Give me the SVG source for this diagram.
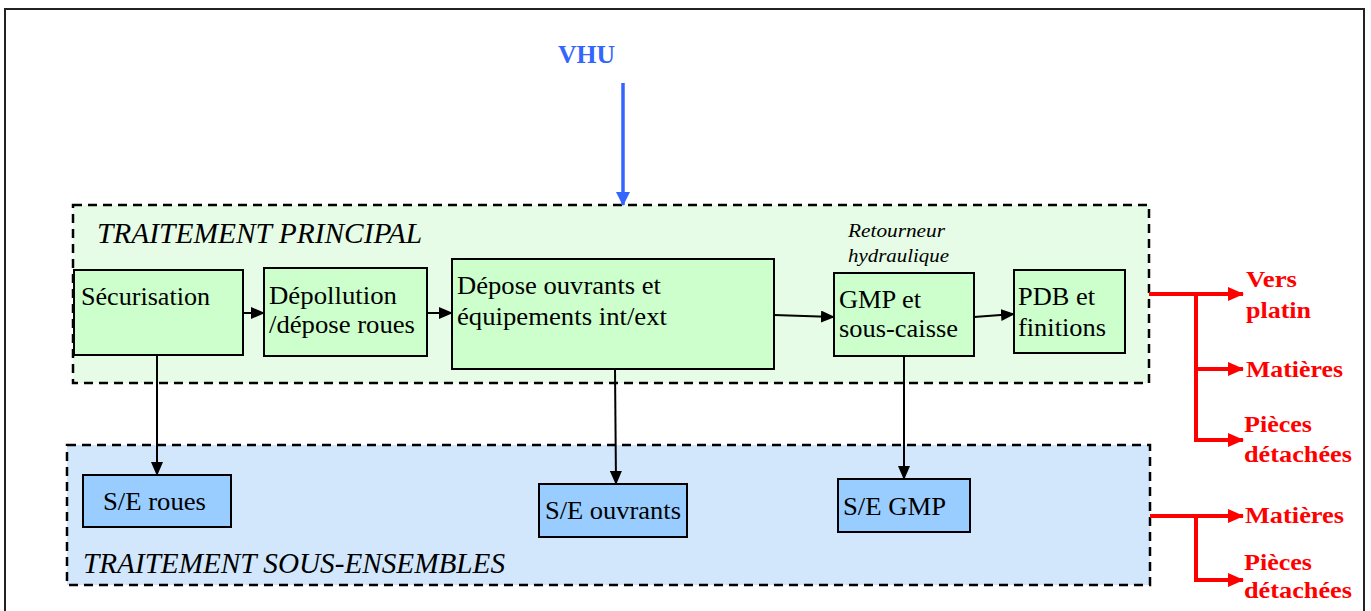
<svg xmlns="http://www.w3.org/2000/svg" width="1371" height="611" viewBox="0 0 1371 611">
<style>
text{font-family:"Liberation Serif","Times New Roman",Times,serif;fill:#000}
.t{font-size:25px}
.it{font-style:italic}
.red{fill:#ff0000;font-weight:bold;font-size:24px}
.box{fill:#ccffcc;stroke:#000;stroke-width:2}
.sbox{fill:#99ccff;stroke:#000;stroke-width:2}
.grp{stroke:#000;stroke-width:2.5;stroke-dasharray:9 6}
.c{stroke:#000;stroke-width:2;fill:none}
.r{stroke:#ff0000;stroke-width:4;fill:none}
</style>
<defs>
<marker id="ah" markerUnits="userSpaceOnUse" markerWidth="14" markerHeight="12" refX="13" refY="6" orient="auto"><path d="M0,0 L14,6 L0,12 Z" fill="#000"/></marker>
<marker id="ab" markerUnits="userSpaceOnUse" markerWidth="14" markerHeight="14" refX="13" refY="7" orient="auto"><path d="M0,0 L14,7 L0,14 Z" fill="#3366ff"/></marker>
<marker id="ar" markerUnits="userSpaceOnUse" markerWidth="16" markerHeight="14" refX="15" refY="7" orient="auto"><path d="M0,0 L16,7 L0,14 Z" fill="#ff0000"/></marker>
</defs>
<rect x="0" y="0" width="1371" height="611" fill="#fff"/>
<rect id="frame" x="5" y="9" width="1359" height="620" fill="none" stroke="#222" stroke-width="2"/>
<g id="principal">
<rect class="grp" x="73" y="205" width="1076" height="178" fill="#e6fce6"/>
<text class="it" x="97" y="243" font-size="29" textLength="325" lengthAdjust="spacingAndGlyphs">TRAITEMENT PRINCIPAL</text>
</g>
<g id="sousensembles">
<rect class="grp" x="67" y="445" width="1083" height="140" fill="#d2e7fc"/>
<text class="it" x="83" y="573" font-size="29" textLength="422" lengthAdjust="spacingAndGlyphs">TRAITEMENT SOUS-ENSEMBLES</text>
</g>
<g id="vhu"><text x="558" y="63" font-size="26" font-weight="bold" style="fill:#3366ff" textLength="57" lengthAdjust="spacingAndGlyphs">VHU</text></g>
<g id="securisation"><rect class="box" x="74" y="270" width="169" height="85"/>
<text class="t" x="81" y="305" textLength="129" lengthAdjust="spacingAndGlyphs">Sécurisation</text></g>
<g id="depollution"><rect class="box" x="264" y="268" width="163" height="88"/>
<text class="t" x="269" y="304" textLength="128" lengthAdjust="spacingAndGlyphs">Dépollution</text>
<text class="t" x="269" y="333" textLength="146" lengthAdjust="spacingAndGlyphs">/dépose roues</text></g>
<g id="depose"><rect class="box" x="452" y="259" width="322" height="110"/>
<text class="t" x="457" y="294" textLength="204" lengthAdjust="spacingAndGlyphs">Dépose ouvrants et</text>
<text class="t" x="457" y="325" textLength="210" lengthAdjust="spacingAndGlyphs">équipements int/ext</text></g>
<g id="retourneur">
<text class="it" x="848" y="237" font-size="18" textLength="97" lengthAdjust="spacingAndGlyphs">Retourneur</text>
<text class="it" x="848" y="262" font-size="18" textLength="101" lengthAdjust="spacingAndGlyphs">hydraulique</text></g>
<g id="gmp"><rect class="box" x="834" y="273" width="140" height="83"/>
<text class="t" x="839" y="308" textLength="82" lengthAdjust="spacingAndGlyphs">GMP et</text>
<text class="t" x="839" y="337" textLength="119" lengthAdjust="spacingAndGlyphs">sous-caisse</text></g>
<g id="pdb"><rect class="box" x="1014" y="270" width="111" height="83"/>
<text class="t" x="1018" y="305" textLength="77" lengthAdjust="spacingAndGlyphs">PDB et</text>
<text class="t" x="1018" y="336" textLength="88" lengthAdjust="spacingAndGlyphs">finitions</text></g>
<g id="se-roues"><rect class="sbox" x="83" y="475" width="148" height="52"/>
<text class="t" x="103" y="510" textLength="103" lengthAdjust="spacingAndGlyphs">S/E roues</text></g>
<g id="se-ouvrants"><rect class="sbox" x="539" y="484" width="148" height="53"/>
<text class="t" x="545" y="519" textLength="136" lengthAdjust="spacingAndGlyphs">S/E ouvrants</text></g>
<g id="se-gmp"><rect class="sbox" x="838" y="479" width="132" height="53"/>
<text class="t" x="843" y="515" textLength="103" lengthAdjust="spacingAndGlyphs">S/E GMP</text></g>
<g id="outputs">
<text class="red" x="1246" y="287" textLength="51" lengthAdjust="spacingAndGlyphs">Vers</text>
<text class="red" x="1246" y="318" textLength="65" lengthAdjust="spacingAndGlyphs">platin</text>
<text class="red" x="1246" y="377" textLength="97" lengthAdjust="spacingAndGlyphs">Matières</text>
<text class="red" x="1244" y="432" textLength="68" lengthAdjust="spacingAndGlyphs">Pièces</text>
<text class="red" x="1244" y="462" textLength="108" lengthAdjust="spacingAndGlyphs">détachées</text>
<text class="red" x="1245" y="523" textLength="99" lengthAdjust="spacingAndGlyphs">Matières</text>
<text class="red" x="1244" y="570" textLength="68" lengthAdjust="spacingAndGlyphs">Pièces</text>
<text class="red" x="1244" y="598" textLength="108" lengthAdjust="spacingAndGlyphs">détachées</text>
</g>
<g id="connectors">
<line x1="623" y1="83" x2="623" y2="205" stroke="#3366ff" stroke-width="3.5" marker-end="url(#ab)"/>
<line class="c" x1="243" y1="313" x2="264" y2="313" marker-end="url(#ah)"/>
<line class="c" x1="427" y1="313" x2="452" y2="313" marker-end="url(#ah)"/>
<line class="c" x1="774" y1="315" x2="834" y2="317" marker-end="url(#ah)"/>
<line class="c" x1="974" y1="317" x2="1014" y2="314" marker-end="url(#ah)"/>
<line class="c" x1="157" y1="355" x2="157" y2="475" marker-end="url(#ah)"/>
<line class="c" x1="615" y1="369" x2="616" y2="484" marker-end="url(#ah)"/>
<line class="c" x1="904" y1="356" x2="904" y2="479" marker-end="url(#ah)"/>
<line class="r" x1="1149" y1="294" x2="1243" y2="294" marker-end="url(#ar)"/>
<polyline class="r" points="1196,294 1196,440 1243,440" marker-end="url(#ar)"/>
<line class="r" x1="1196" y1="369" x2="1243" y2="369" marker-end="url(#ar)"/>
<line class="r" x1="1150" y1="516" x2="1243" y2="516" marker-end="url(#ar)"/>
<polyline class="r" points="1196,516 1196,580 1243,580" marker-end="url(#ar)"/>
</g>
</svg>
